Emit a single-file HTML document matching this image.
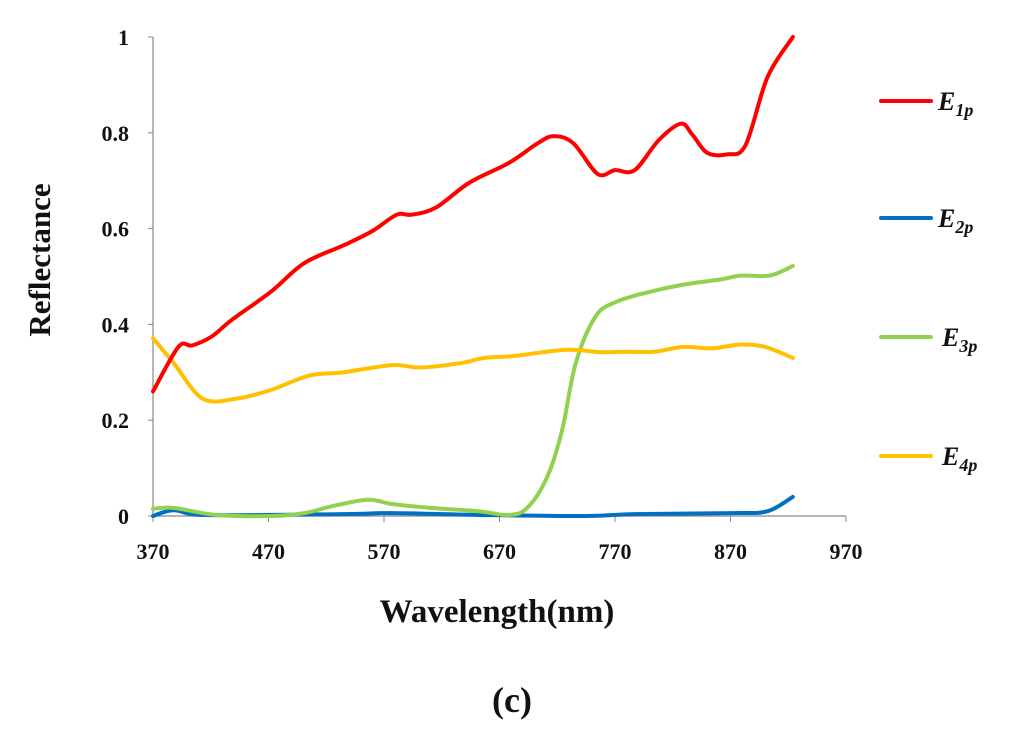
<!DOCTYPE html>
<html><head><meta charset="utf-8"><style>
body{margin:0;background:#fff}
svg{display:block}
text{font-family:"Liberation Serif",serif;font-weight:bold;fill:#111}
</style></head><body>
<svg id="chart" width="1024" height="749" viewBox="0 0 1024 749" xmlns="http://www.w3.org/2000/svg">
<g id="axes"></g>
<g id="series"></g>
<g id="legend"></g>
<text transform="translate(50,260) rotate(-90)" text-anchor="middle" font-size="31">Reflectance</text>
<text x="497" y="622" text-anchor="middle" font-size="33">Wavelength(nm)</text>
<text x="512" y="712" text-anchor="middle" font-size="36">(c)</text>
</svg>
<script>
const xTicks=[370,470,570,670,770,870,970];
const yTicks=[0,0.2,0.4,0.6,0.8,1];
const yTickLabels=["0","0.2","0.4","0.6","0.8","1"];
const seriesNames=["E1p","E2p","E3p","E4p"];
const e1Wl=[370,392,404,421,438,472,501,535,560,581,594,615,644,678,703,717,734,755,770,787,808,827,837,850,867,883,902,924];
const e1Val=[0.26,0.353,0.356,0.375,0.409,0.468,0.528,0.565,0.595,0.629,0.629,0.644,0.696,0.737,0.778,0.793,0.778,0.714,0.722,0.722,0.785,0.819,0.796,0.758,0.755,0.774,0.916,1.0];
const e2Wl=[370,388,417,535,577,661,745,787,871,902,924];
const e2Val=[0,0.012,0.002,0.004,0.006,0.002,0,0.004,0.006,0.01,0.04];
const e3Wl=[370,388,425,472,501,526,556,577,610,652,678,694,711,724,736,753,770,795,829,862,879,904,924];
const e3Val=[0.015,0.017,0.002,0,0.006,0.021,0.034,0.025,0.017,0.01,0.002,0.017,0.08,0.177,0.319,0.416,0.446,0.465,0.483,0.494,0.502,0.502,0.522];
const e4Wl=[370,388,413,442,472,505,535,577,602,636,657,682,728,757,778,804,829,854,879,900,924];
const e4Val=[0.371,0.319,0.245,0.245,0.263,0.293,0.3,0.315,0.31,0.319,0.33,0.334,0.347,0.342,0.343,0.343,0.353,0.35,0.358,0.353,0.33];
const colors=["#ff0000","#0070c0","#92d050","#ffc000"];
const X0=153,X1=846,Y0=516,Y1=37;
function sx(v){return X0+(v-370)/(970-370)*(X1-X0);}
function sy(v){return Y0-v*(Y0-Y1);}
const NS="http://www.w3.org/2000/svg";
function mk(t,a,p){const e=document.createElementNS(NS,t);for(const k in a)e.setAttribute(k,a[k]);p.appendChild(e);return e;}
const axes=document.getElementById('axes');
let ya=mk('line',{x1:X0,y1:Y1,x2:X0,y2:Y0,stroke:'#888','stroke-width':1.2},axes);


let xa=mk('line',{x1:X0,y1:Y0,x2:X1,y2:Y0,stroke:'#888','stroke-width':1.2},axes);


yTicks.forEach((v,i)=>{
 let t=mk('line',{x1:X0-5,y1:sy(v),x2:X0,y2:sy(v),stroke:'#888'},axes);
 
 
 let l=mk('text',{x:X0-24,y:sy(v)+8,'text-anchor':'end','font-size':22},axes);
 l.textContent=yTickLabels[i];
 
 
});
xTicks.forEach(v=>{
 let t=mk('line',{x1:sx(v),y1:Y0,x2:sx(v),y2:Y0+6,stroke:'#888'},axes);
 
 
 let l=mk('text',{x:sx(v),y:Y0+43,'text-anchor':'middle','font-size':22},axes);
 l.textContent=String(v);
 
 
});
function smooth(pts){
 let d='M'+pts[0][0]+','+pts[0][1];
 for(let i=0;i<pts.length-1;i++){
  const p0=pts[Math.max(0,i-1)],p1=pts[i],p2=pts[i+1],p3=pts[Math.min(pts.length-1,i+2)];
  const c1=[p1[0]+(p2[0]-p0[0])/6,p1[1]+(p2[1]-p0[1])/6];
  const c2=[p2[0]-(p3[0]-p1[0])/6,p2[1]-(p3[1]-p1[1])/6];
  d+=' C'+c1+' '+c2+' '+p2;
 }
 return d;
}
const sg=document.getElementById('series');
const data=[[e2Wl,e2Val],[e3Wl,e3Val],[e4Wl,e4Val],[e1Wl,e1Val]];
const idx=[1,2,3,0];
data.forEach((s,k)=>{
 const pts=s[0].map((w,i)=>[sx(w),sy(s[1][i])]);
 let p=mk('path',{d:smooth(pts),fill:'none',stroke:colors[idx[k]],'stroke-width':4,'stroke-linecap':'round','stroke-linejoin':'round'},sg);
 
 
});
const lg=document.getElementById('legend');
const ly=[101,218,337,456];
seriesNames.forEach((n,i)=>{
 let l=mk('line',{x1:881,y1:ly[i],x2:931,y2:ly[i],stroke:colors[i],'stroke-width':4,'stroke-linecap':'round'},lg);
 
 
 let t=mk('text',{x:i<2?938:942,y:ly[i]+9,'font-size':26,'font-style':'italic'},lg);
 
 
 t.appendChild(document.createTextNode('E'));
 let ts=mk('tspan',{dy:6,'font-size':18},t);
 ts.textContent=n.slice(1);
});
</script>
</body></html>
